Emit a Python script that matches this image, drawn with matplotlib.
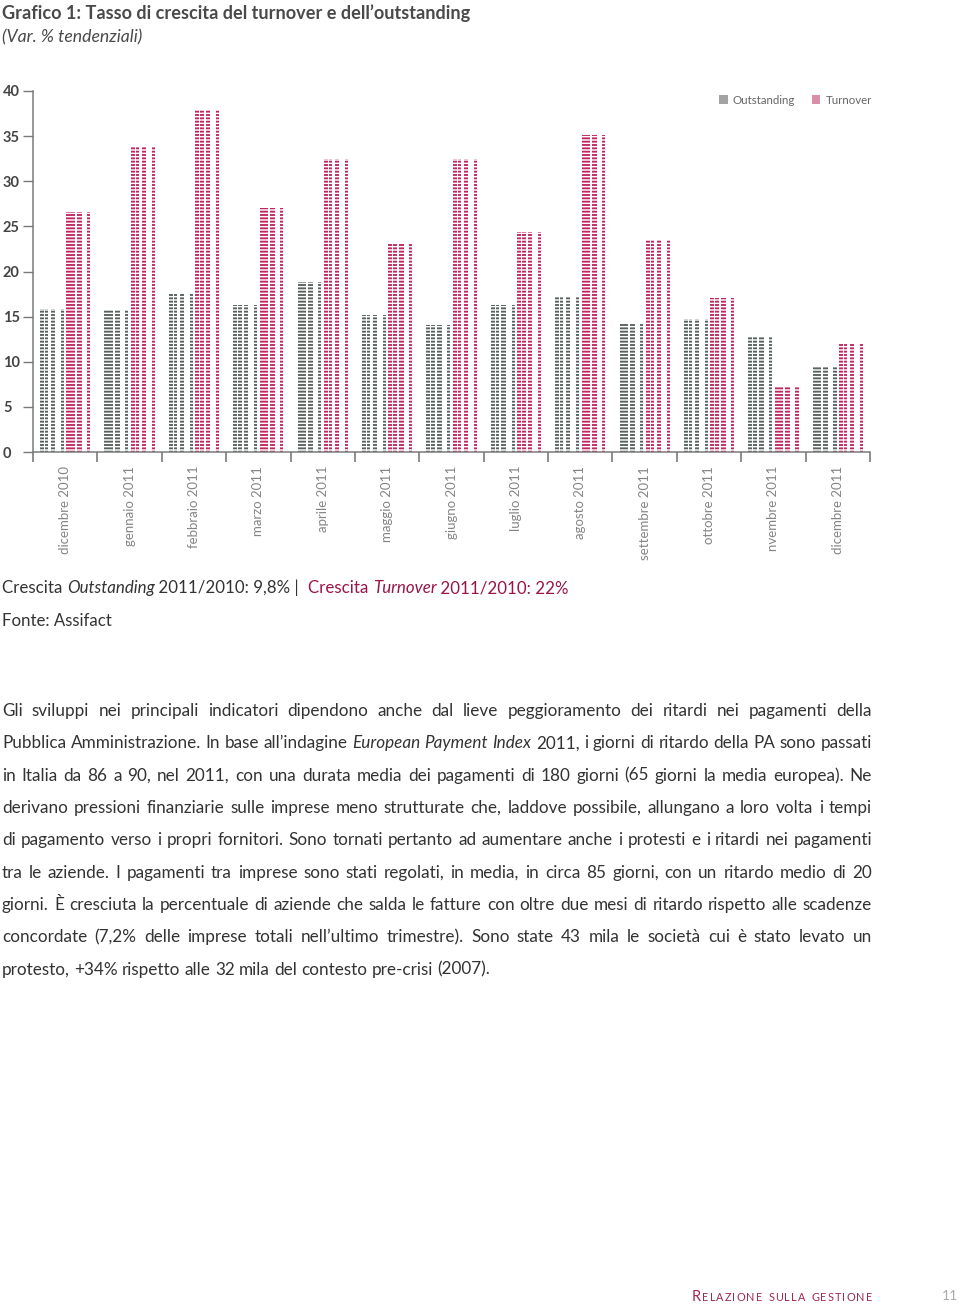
import matplotlib
matplotlib.use("Agg")
import matplotlib.pyplot as plt
from matplotlib.patches import Patch
import numpy as np

months = ['dicembre 2010', 'gennaio 2011', 'febbraio 2011', 'marzo 2011', 'aprile 2011',
          'maggio 2011', 'giugno 2011', 'luglio 2011', 'agosto 2011', 'settembre 2011',
          'ottobre 2011', 'nvembre 2011', 'dicembre 2011']
outstanding = [15.8, 15.7, 17.5, 16.3, 18.8, 15.2, 14.1, 16.3, 17.3, 14.2, 14.7, 12.7, 9.5]
turnover = [26.6, 33.8, 37.9, 27.0, 32.5, 23.0, 32.5, 24.4, 35.1, 23.5, 17.1, 7.2, 12.0]
yticks = [0, 5, 10, 15, 20, 25, 30, 35, 40]

body = [
    "Gli sviluppi nei principali indicatori dipendono anche dal lieve peggioramento dei ritardi nei pagamenti della",
    "Pubblica Amministrazione. In base all\u2019indagine _European _Payment _Index 2011, i giorni di ritardo della PA sono passati",
    "in Italia da 86 a 90, nel 2011, con una durata media dei pagamenti di 180 giorni (65 giorni la media europea). Ne",
    "derivano pressioni finanziarie sulle imprese meno strutturate che, laddove possibile, allungano a loro volta i tempi",
    "di pagamento verso i propri fornitori. Sono tornati pertanto ad aumentare anche i protesti e i ritardi nei pagamenti",
    "tra le aziende. I pagamenti tra imprese sono stati regolati, in media, in circa 85 giorni, con un ritardo medio di 20",
    "giorni. \u00c8 cresciuta la percentuale di aziende che salda le fatture con oltre due mesi di ritardo rispetto alle scadenze",
    "concordate (7,2% delle imprese totali nell\u2019ultimo trimestre). Sono state 43 mila le societ\u00e0 cui \u00e8 stato levato un",
    "protesto, +34% rispetto alle 32 mila del contesto pre-crisi (2007).",
]

GRAY = '#58625d'
PINK = '#c2265f'
CRIMSON = '#9a1547'
TXT = '#333333'
AX = '#7a7a7a'

plt.rcParams['font.family'] = ['Lato', 'DejaVu Sans']
plt.rcParams['hatch.linewidth'] = 1.35

W, H = 960, 1307
fig = plt.figure(figsize=(W / 100, H / 100), dpi=100)
fx = lambda px: px / W
fy = lambda py: 1 - py / H

ax = fig.add_axes([fx(33), fy(452), (870 - 33) / W, (452 - 91) / H])
x = np.arange(len(months))
bw = 0.37
strips = [(0.0, 0.17), (0.2, 0.35), (0.45, 0.64), (0.87, 1.0)]
for vals, off, col in [(outstanding, -0.39, GRAY), (turnover, 0.02, PINK)]:
    for a, b in strips:
        ax.bar(x + off + a * bw, vals, width=(b - a) * bw, align='edge',
               facecolor='white', edgecolor=col, hatch='-----', linewidth=0)

ax.set_xlim(-0.5, len(months) - 0.5)
ax.set_ylim(0, 40)
ax.set_yticks(yticks)
ax.set_yticklabels([str(v) for v in yticks], fontweight='bold', fontsize=10.5,
                   color='#444444', ha='left')
ax.tick_params(axis='y', length=7.5, width=1.0, color=AX, pad=14.1)
ax.set_xticks(np.arange(-0.5, len(months), 1))
ax.set_xticklabels([])
ax.tick_params(axis='x', which='major', length=7.5, width=1.2, color=AX)
ax.set_xticks(x, minor=True)
ax.set_xticklabels(months, minor=True, rotation=90, ha='center', va='top',
                   fontsize=9.5, color='#858585')
ax.tick_params(axis='x', which='minor', length=0, pad=10)
for s in ['top', 'right']:
    ax.spines[s].set_visible(False)
for s in ['left', 'bottom']:
    ax.spines[s].set_color(AX)
    ax.spines[s].set_linewidth(1.1)

ax.legend(handles=[Patch(facecolor='#a3a3a3', label='Outstanding'),
                   Patch(facecolor='#d98fa9', label='Turnover')],
          loc='center right', bbox_to_anchor=(fx(872), fy(100)), bbox_transform=fig.transFigure,
          ncol=2, frameon=False, fontsize=8.3, labelcolor='#666666', borderpad=0,
          borderaxespad=0, handlelength=0.7, handleheight=0.7, handletextpad=0.45,
          columnspacing=1.5)

r = fig.canvas.get_renderer()


def run(pieces, x0, y, size, width=None):
    # pieces: (text, color, style, weight)
    def place(sz):
        ts, xx = [], x0
        for s, c, st, wt in pieces:
            t = fig.text(fx(xx), fy(y), s, fontsize=sz, color=c, style=st,
                         fontweight=wt, va='baseline', ha='left')
            ts.append(t)
            xx += t.get_window_extent(r).width
        return ts, xx - x0
    ts, w = place(size)
    if width:
        for t in ts:
            t.remove()
        ts, w = place(size * width / w)
    return ts


run([("Grafico 1: Tasso di crescita del turnover e dell\u2019outstanding", '#4a4a4a', 'normal', 'bold')],
    2, 19, 13, width=468)
run([("(Var. % tendenziali)", '#4a4a4a', 'italic', 'normal')], 2, 42, 12.5, width=141)

run([("Crescita ", TXT, 'normal', 'normal'), ("Outstanding", TXT, 'italic', 'normal'),
     (" 2011/2010: 9,8% |  ", TXT, 'normal', 'normal'),
     ("Crescita ", CRIMSON, 'normal', 'normal'), ("Turnover", CRIMSON, 'italic', 'normal'),
     (" 2011/2010: 22%", CRIMSON, 'normal', 'normal')], 2, 593, 13, width=561)
run([("Fonte: Assifact", TXT, 'normal', 'normal')], 2, 626, 13, width=110)


# justified body text
def words_of(line, size):
    out = []
    for w in line.split(' '):
        st = 'italic' if w.startswith('_') else 'normal'
        t = fig.text(0, 0, w.lstrip('_'), fontsize=size, style=st, color=TXT, va='baseline')
        out.append((t, t.get_window_extent(r).width))
    return out


probe = fig.text(0, 0, 'a a', fontsize=10)
sp10 = probe.get_window_extent(r).width
probe.set_text('aa')
sp10 -= probe.get_window_extent(r).width
probe.remove()
nat = []
for line in body[:-1]:
    ws = words_of(line, 10)
    nat.append(sum(w for _, w in ws) + sp10 * (len(ws) - 1))
    for t, _ in ws:
        t.remove()
bsize = 10 * 868 / max(nat)

for i, line in enumerate(body):
    y = 716 + 32.35 * i
    ws = words_of(line, bsize)
    total = sum(w for _, w in ws)
    gap = sp10 * bsize / 10 if i == len(body) - 1 else (870 - total) / (len(ws) - 1)
    xx = 2
    for t, w in ws:
        t.set_position((fx(xx), fy(y)))
        xx += w + gap

# footer in small caps with letter spacing
footer = "Relazione sulla gestione"
chars = []
for k, ch in enumerate(footer):
    big = ch.isupper()
    t = fig.text(0, fy(1301), ch.upper(), fontsize=10.5 if big else 7.8,
                 color='#a3284f', va='baseline', ha='left')
    chars.append((t, t.get_window_extent(r).width if ch != ' ' else 4.0))
track = (180 - sum(w for _, w in chars)) / (len(chars) - 1)
xx = 692
for t, w in chars:
    t.set_x(fx(xx))
    xx += w + track
fig.text(fx(958), fy(1300), "11", fontsize=10, color='#aaaaaa', ha='right', va='baseline')

fig.savefig('out.png', dpi=100)
